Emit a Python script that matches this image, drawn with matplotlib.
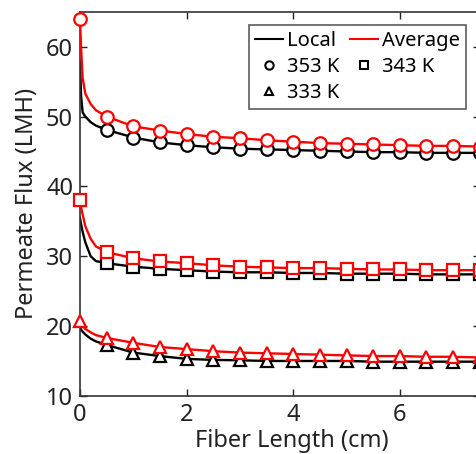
import numpy as np
import matplotlib.pyplot as plt
from matplotlib.lines import Line2D

plt.rcParams['font.family'] = ['Noto Sans', 'DejaVu Sans']

# fiber length positions (cm): steep entrance region, then marker grid
x_head = [0.0, 0.02, 0.05, 0.1, 0.2, 0.3]
x_mark = [0.5, 1.0, 1.5, 2.0, 2.5, 3.0, 3.5, 4.0, 4.5, 5.0, 5.5, 6.0, 6.5, 7.0, 7.5]

# 353 K
avg_353_head = [64.0, 60.0, 55.5, 53.3, 51.8, 50.9]
avg_353 = [50.0, 48.6, 48.0, 47.5, 47.1, 46.9, 46.6, 46.4, 46.2, 46.1, 46.0, 45.9, 45.8, 45.8, 45.7]
loc_353_head = [58.0, 53.0, 50.6, 50.0, 49.2, 48.7]
loc_353 = [48.1, 47.0, 46.3, 45.9, 45.6, 45.4, 45.3, 45.2, 45.1, 45.0, 44.9, 44.9, 44.8, 44.8, 44.8]

# 343 K
avg_343_head = [38.0, 37.0, 36.0, 34.3, 32.5, 31.4]
avg_343 = [30.6, 29.7, 29.25, 29.0, 28.7, 28.5, 28.4, 28.3, 28.3, 28.2, 28.1, 28.1, 28.0, 28.0, 28.0]
loc_343_head = [35.5, 34.6, 33.5, 32.0, 30.0, 29.3]
loc_343 = [29.0, 28.5, 28.2, 28.0, 27.8, 27.7, 27.7, 27.6, 27.6, 27.5, 27.5, 27.5, 27.4, 27.4, 27.4]

# 333 K
avg_333_head = [20.7, 20.3, 20.0, 19.6, 19.1, 18.7]
avg_333 = [18.3, 17.6, 17.0, 16.7, 16.4, 16.2, 16.1, 16.0, 15.9, 15.8, 15.7, 15.7, 15.6, 15.6, 15.5]
loc_333_head = [19.8, 19.5, 19.2, 18.8, 18.2, 17.8]
loc_333 = [17.3, 16.2, 15.7, 15.3, 15.15, 15.1, 15.0, 15.0, 15.0, 15.0, 14.9, 14.9, 14.9, 14.9, 14.9]

series = [
    (avg_353_head, avg_353, loc_353_head, loc_353, 'o'),
    (avg_343_head, avg_343, loc_343_head, loc_343, 's'),
    (avg_333_head, avg_333, loc_333_head, loc_333, '^'),
]

fig = plt.figure(figsize=(4.76, 4.54), dpi=100)
ax = fig.add_axes([0.168, 0.128, 0.840, 0.846])

x_line = np.array(x_head + x_mark)
ms = 9
for a_head, a_vals, l_head, l_vals, mk in series:
    # local (black)
    ax.plot(x_line, l_head + l_vals, color='black', lw=1.7, zorder=2)
    ax.plot(x_mark, l_vals, ls='none', marker=mk, ms=ms, mfc='white',
            mec='black', mew=1.6, zorder=3)
    # average (red), marker also at the inlet
    ax.plot(x_line, a_head + a_vals, color='red', lw=1.7, zorder=4)
    ax.plot([x_head[0]] + x_mark, [a_head[0]] + a_vals, ls='none', marker=mk,
            ms=ms, mfc='white', mec='red', mew=1.6, zorder=5, clip_on=False)

ax.set_xlim(0, 7.5)
ax.set_ylim(10, 65)
ax.set_xticks([0, 2, 4, 6])
ax.set_yticks([10, 20, 30, 40, 50, 60])
ax.tick_params(direction='in', top=True, right=True, length=5, width=1,
               labelsize=17, pad=5, colors='#222222', labelcolor='#222222')
for sp in ax.spines.values():
    sp.set_linewidth(1.2)
    sp.set_color('#333333')

ax.set_xlabel('Fiber Length (cm)', fontsize=17, color='#222222')
ax.xaxis.set_label_coords(0.53, -0.085)
ax.set_ylabel('Permeate Flux (LMH)', fontsize=17, color='#222222', labelpad=5)

handles = [
    Line2D([], [], color='black', lw=1.5),
    Line2D([], [], ls='none', marker='o', ms=6, mfc='white', mec='black', mew=1.5),
    Line2D([], [], ls='none', marker='^', ms=6, mfc='white', mec='black', mew=1.5),
    Line2D([], [], color='red', lw=1.5),
    Line2D([], [], ls='none', marker='s', ms=6, mfc='white', mec='black', mew=1.5),
]
labels = ['Local', '353 K', '333 K', 'Average', '343 K']
leg = fig.legend(handles, labels, ncol=2, loc='upper right',
                 bbox_to_anchor=(0.979, 0.945), fontsize=14.5, frameon=True,
                 fancybox=False, edgecolor='#333333', handlelength=1.4,
                 handletextpad=0.2, columnspacing=0.5, labelspacing=0.3,
                 borderpad=0.3, borderaxespad=0)
leg.get_frame().set_linewidth(1.2)

plt.savefig('out.png', dpi=100)
